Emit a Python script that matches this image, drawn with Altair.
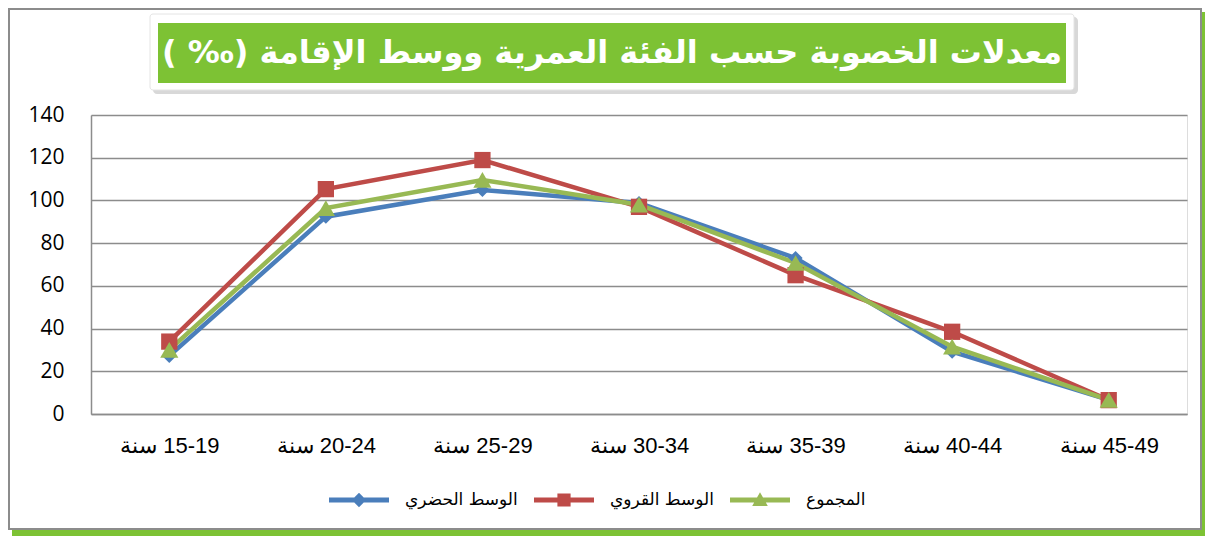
import altair as alt
import pandas as pd

# ---- data ----
age_groups = ["15-19", "20-24", "25-29", "30-34", "35-39", "40-44", "45-49"]
categories = [f"{a} سنة" for a in age_groups]
series_names = ["الوسط الحضري", "الوسط القروي", "المجموع"]
urban = [27.2, 92.4, 104.9, 98.8, 73.0, 29.2, 6.6]
rural = [33.9, 105.3, 118.9, 97.0, 65.0, 38.5, 6.5]
total = [30.0, 96.4, 109.6, 98.0, 70.7, 31.5, 6.6]
colors = ["#4A7EBB", "#BE4B48", "#98B954"]
title_text = "معدلات الخصوبة حسب الفئة العمرية ووسط الإقامة (‰ )"

rows = []
for name, vals in zip(series_names, [urban, rural, total]):
    for c, v in zip(categories, vals):
        rows.append({"cat": c, "series": name, "value": v})
df = pd.DataFrame(rows)

RLE, PDF = "\u202b", "\u202c"
W, H = 1096, 299
GREEN = "#7DC234"

one = alt.Data(values=[{}])

# ---- decorations (frame + title box) ----
frame_shadow_r = alt.Chart(one).mark_rect(fill=GREEN).encode(
    x=alt.value(1110), x2=alt.value(1114), y=alt.value(-103), y2=alt.value(421))
frame_shadow_b = alt.Chart(one).mark_rect(fill=GREEN).encode(
    x=alt.value(-79), x2=alt.value(1114), y=alt.value(414), y2=alt.value(421))
frame = alt.Chart(one).mark_rect(fillOpacity=0, stroke="#8c8c8c", strokeWidth=2).encode(
    x=alt.value(-82), x2=alt.value(1110), y=alt.value(-106), y2=alt.value(414))

tbox_shadow = alt.Chart(one).mark_rect(fill="#c8c8c8", cornerRadius=4, opacity=0.7).encode(
    x=alt.value(62), x2=alt.value(987), y=alt.value(-98), y2=alt.value(-21))
tbox_white = alt.Chart(one).mark_rect(fill="white", stroke="#e4e4e4", strokeWidth=1, cornerRadius=3).encode(
    x=alt.value(59), x2=alt.value(983), y=alt.value(-101), y2=alt.value(-25))
tbox_green = alt.Chart(one).mark_rect(fill=GREEN).encode(
    x=alt.value(67), x2=alt.value(975), y=alt.value(-92), y2=alt.value(-32))
ttext = alt.Chart(alt.Data(values=[{"t": RLE + title_text + PDF}])).mark_text(
    font="DejaVu Sans", fontSize=32, fontWeight="bold", color="white",
    align="center", baseline="middle").encode(
    text="t:N", x=alt.value(521), y=alt.value(-62))

# ---- chart ----
xenc = alt.X("cat:N", sort=categories, scale=alt.Scale(type="point", padding=0.5),
             axis=alt.Axis(title=None, labelAngle=0, labelFontSize=22, labelColor="black",
                           labelFont="Liberation Sans Narrow, Liberation Sans", labelPadding=21,
                           ticks=False, tickSize=0,
                           domainColor="#8c8c8c", domainWidth=1.5,
                           labelExpr=f"'{RLE}' + datum.label + '{PDF}'"))
yenc = alt.Y("value:Q", scale=alt.Scale(domain=[0, 140], nice=False),
             axis=alt.Axis(title=None, values=list(range(0, 141, 20)), labelFontSize=21,
                           labelColor="black", labelFont="Open Sans", labelPadding=27,
                           ticks=False, tickSize=0, grid=True, gridColor="#8c8c8c",
                           gridWidth=1.5, domainColor="#8c8c8c", domainWidth=1.5))
col_scale = alt.Scale(domain=series_names, range=colors)

lines = alt.Chart(df).mark_line(strokeWidth=4.5).encode(
    x=xenc, y=yenc,
    color=alt.Color("series:N", scale=col_scale, legend=None, sort=series_names),
    detail="series:N")

points = alt.Chart(df).mark_point(filled=True, opacity=1).encode(
    x=xenc, y=yenc,
    color=alt.Color("series:N", scale=col_scale, legend=None),
    shape=alt.Shape("series:N", scale=alt.Scale(domain=series_names,
                                                range=["diamond", "square", "triangle-up"]),
                    legend=None),
    size=alt.Size("series:N", scale=alt.Scale(domain=series_names, range=[200, 330, 330]),
                  legend=None))

bar = "M-2.5,-0.2H2.5V0.2H-2.5Z "
legend_paths = [bar + "M0,-0.6L0.6,0L0,0.6L-0.6,0Z",
                bar + "M-0.55,-0.55H0.55V0.55H-0.55Z",
                bar + "M0,-0.65L0.65,0.5H-0.65Z"]
leg = alt.Legend(title=None, orient="none", legendX=239, legendY=373, direction="horizontal",
                 symbolSize=576, symbolOffset=17, labelOffset=34, columnPadding=16,
                 labelFontSize=17, labelColor="black", labelFont="DejaVu Sans",
                 symbolStrokeWidth=0, symbolOpacity=1, padding=0)
legend_layer = alt.Chart(df).mark_point(filled=True, opacity=1).encode(
    x=alt.value(-5000), y=alt.value(-5000),
    color=alt.Color("series:N", scale=alt.Scale(domain=series_names, range=colors), legend=leg),
    shape=alt.Shape("series:N", scale=alt.Scale(domain=series_names, range=legend_paths), legend=leg))

chart = alt.layer(
    frame_shadow_r, frame_shadow_b, frame, tbox_shadow, tbox_white, tbox_green, ttext,
    lines, points, legend_layer
).resolve_scale(color="independent", shape="independent", size="independent").properties(
    width=W, height=H,
    autosize=alt.AutoSizeParams(type="none"),
    padding={"left": 83, "top": 107, "right": 24, "bottom": 122},
).configure_view(stroke=None).configure(background="white")

chart.save("out.html", embed_options={"renderer": "svg", "actions": False})
